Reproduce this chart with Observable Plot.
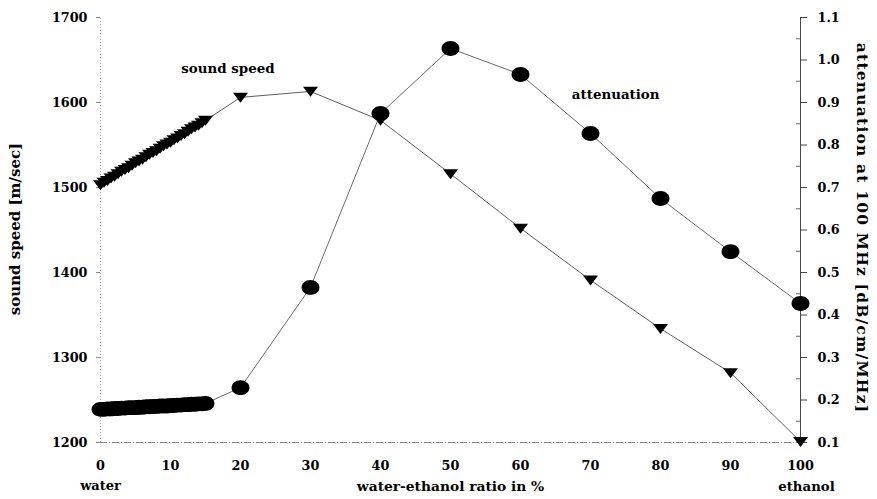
<!DOCTYPE html>
<html><head><meta charset="utf-8">
<script src="https://cdn.jsdelivr.net/npm/d3@7"></script>
<script src="https://cdn.jsdelivr.net/npm/@observablehq/plot@0.6"></script>
<style>body{margin:0;background:#fff}</style>
</head><body><div id="chart"></div>
<script>
// water-ethanol ratio in %
const ratio = [0,0.5,1,1.5,2,2.5,3,3.5,4,4.5,5,5.5,6,6.5,7,7.5,8,8.5,9,9.5,10,10.5,11,11.5,12,12.5,13,13.5,14,14.5,15,20,30,40,50,60,70,80,90,100];
// sound speed [m/sec]
const soundSpeed = [1503,1506,1508,1511,1513,1516,1519,1521,1523,1526,1529,1531,1533,1536,1539,1541,1543,1546,1549,1551,1553,1556,1558,1561,1563,1566,1569,1571,1573,1576,1579,1606,1613,1579,1516,1452,1391,1334,1282,1201];
// attenuation at 100 MHz [dB/cm/MHz]
const attenuation = [0.178,0.178,0.179,0.179,0.180,0.180,0.181,0.181,0.182,0.182,0.182,0.183,0.183,0.184,0.184,0.185,0.185,0.186,0.186,0.186,0.187,0.187,0.188,0.188,0.189,0.189,0.190,0.190,0.191,0.191,0.192,0.229,0.465,0.874,1.027,0.966,0.827,0.674,0.549,0.427];

const xTicks = [0,10,20,30,40,50,60,70,80,90,100];
const speedTicks = [1200,1300,1400,1500,1600,1700];
const attTicks = [0.1,0.2,0.3,0.4,0.5,0.6,0.7,0.8,0.9,1.0,1.1];
const attMinor = [0.15,0.25,0.35,0.45,0.55,0.65,0.75,0.85,0.95,1.05];

const leftTitle = "sound speed [m/sec]";
const rightTitle = "attenuation at 100 MHz [dB/cm/MHz]";
const xTitle = "water-ethanol ratio in %";
const seriesLabels = [
  {text: "sound speed", x: 18.2, y: 1640},
  {text: "attenuation", x: 73.6, y: 1609}
];

const data = ratio.map((r, i) => ({ratio: r, speed: soundSpeed[i], att: attenuation[i]}));
// right axis (attenuation) shares the plot height: 0.1 -> 1200, 1.1 -> 1700
const attToY = a => 1150 + 500 * a;

const triDown = {
  draw(ctx, size) {
    const r = Math.sqrt(size / Math.PI);
    ctx.moveTo(-r, -0.62 * r);
    ctx.lineTo(r, -0.62 * r);
    ctx.lineTo(0, 0.72 * r);
    ctx.closePath();
  }
};
const ellipse = {
  draw(ctx, size) {
    const r = Math.sqrt(size / Math.PI);
    const rx = 1.12 * r, ry = 0.93 * r, k = 0.5523;
    ctx.moveTo(rx, 0);
    ctx.bezierCurveTo(rx, ry * k, rx * k, ry, 0, ry);
    ctx.bezierCurveTo(-rx * k, ry, -rx, ry * k, -rx, 0);
    ctx.bezierCurveTo(-rx, -ry * k, -rx * k, -ry, 0, -ry);
    ctx.bezierCurveTo(rx * k, -ry, rx, -ry * k, rx, 0);
    ctx.closePath();
  }
};

const F = "DejaVu Serif";
const txt = {fontFamily: F, fontWeight: "bold", fill: "black"};

const plot = Plot.plot({
  width: 877, height: 499,
  marginLeft: 100, marginRight: 77, marginTop: 17, marginBottom: 57,
  style: {fontFamily: F, fontWeight: "bold", fontSize: "12.5px", background: "white", color: "black"},
  x: {domain: [0, 100], axis: null},
  y: {domain: [1200, 1700], axis: null},
  marks: [
    Plot.ruleY([1200], {x1: 0, x2: 100, stroke: "#8a8a8a", strokeDasharray: "7,2,1,2"}),
    Plot.ruleX([0], {y1: 1200, y2: 1700, stroke: "#a0a0a0", strokeDasharray: "1,2"}),
    Plot.ruleX([100], {y1: 1200, y2: 1700, stroke: "#333", strokeWidth: 0.9}),
    Plot.ruleY(speedTicks, {x1: 0, x2: 0, insetLeft: -4, stroke: "#888"}),
    Plot.ruleY(attTicks, {y: attToY, x1: 100, x2: 100, insetRight: -7, stroke: "#444"}),
    Plot.ruleY(attMinor, {y: attToY, x1: 100, x2: 100, insetLeft: -4, stroke: "#666"}),
    Plot.axisY({anchor: "left", ticks: speedTicks, tickFormat: d => String(d), tickSize: 0, tickPadding: 13, label: null, fontSize: 12.8, ...txt}),
    Plot.axisY({anchor: "right", ticks: attTicks.map(attToY), tickFormat: d => ((d - 1150) / 500).toFixed(1), tickSize: 0, tickPadding: 17, label: null, fontSize: 12.8, ...txt}),
    Plot.axisX({ticks: xTicks, tickFormat: d => String(d), tickSize: 0, tickPadding: 18, label: null, fontSize: 12.8, ...txt}),
    Plot.line(data, {x: "ratio", y: d => attToY(d.att), stroke: "#444", strokeWidth: 0.8}),
    Plot.line(data, {x: "ratio", y: "speed", stroke: "#333", strokeWidth: 0.8}),
    Plot.dot(data, {x: "ratio", y: d => attToY(d.att), symbol: ellipse, r: 8, fill: "black", stroke: "none"}),
    Plot.dot(data, {x: "ratio", y: "speed", symbol: triDown, r: 7.5, fill: "black", stroke: "none"}),
    Plot.text(seriesLabels, {x: "x", y: "y", text: "text", fontSize: 13.4, ...txt}),
    Plot.text([leftTitle], {text: d => d, frameAnchor: "left", textAnchor: "middle", dx: -85, dy: -1, rotate: -90, fontSize: 15, ...txt}),
    Plot.text([rightTitle], {text: d => d, frameAnchor: "right", textAnchor: "middle", dx: 61, dy: -2, rotate: 90, fontSize: 15.5, ...txt}),
    Plot.text([xTitle], {text: d => d, frameAnchor: "bottom", dy: 48, fontSize: 13.8, ...txt}),
    Plot.text(["water"], {text: d => d, x: 0, frameAnchor: "bottom", dy: 47, fontSize: 13, ...txt}),
    Plot.text(["ethanol"], {text: d => d, x: 100, frameAnchor: "bottom", dx: 6, dy: 48, fontSize: 13.3, ...txt})
  ]
});
// widen the right-hand title's letter spacing to match the reference length
d3.select(plot).selectAll("text").filter(function() { return this.textContent === rightTitle; })
  .attr("letter-spacing", "1.2px");
document.getElementById("chart").appendChild(plot);
</script>
</body></html>
